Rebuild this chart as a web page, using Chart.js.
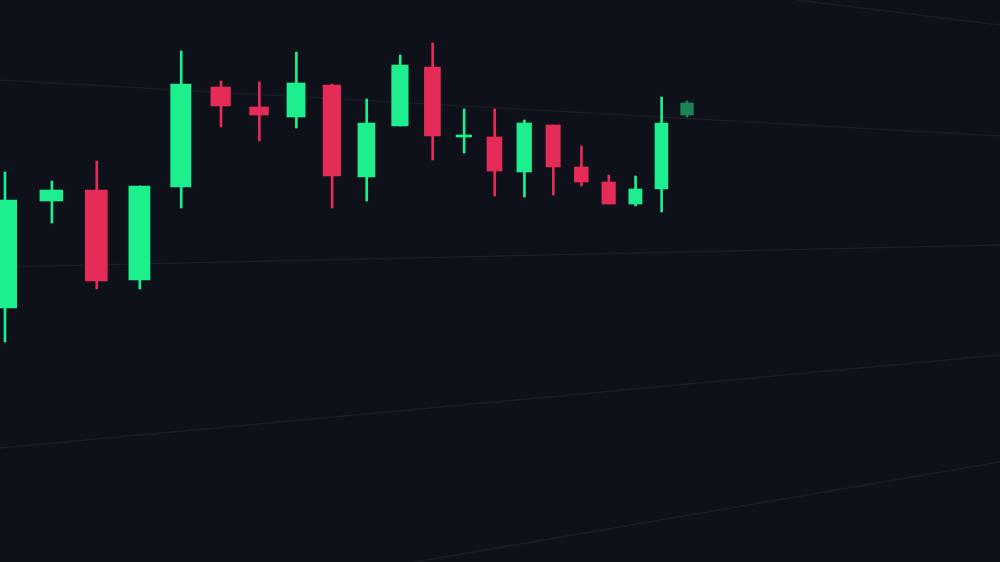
<!DOCTYPE html>
<html>
<head>
<meta charset="utf-8">
<script src="https://cdn.jsdelivr.net/npm/chart.js@4.4.1/dist/chart.umd.min.js"></script>
<style>
  html, body { margin: 0; padding: 0; background: #0e1119; }
  canvas { display: block; }
</style>
</head>
<body>
<canvas id="candleChart" width="1000" height="562"></canvas>
<script>
// session numbers (x); the x axis is logarithmic to get the receding look
const sessions = [22, 23, 24, 25, 26, 27, 28, 29, 30, 31, 32, 33, 34, 35, 36, 37, 38, 39, 40, 41, 42];
const opens  = [73, 99.75, 102.5, 80, 103.25, 128.25, 123.25, 120.75, 128.75, 105.75, 118.5, 133.25, 115.75, 115.75, 107, 118.75, 108.25, 104.5, 99, 102.75, 121.25];
const closes = [100, 102.5, 79.75, 103.5, 129, 123.5, 121.25, 129.25, 106, 119.25, 133.75, 116, 116.25, 107.25, 119.25, 108.25, 104.5, 99, 102.75, 119.25, 124.25];
const highs  = [107, 104.75, 109.75, 103.5, 137.25, 129.75, 129.5, 137, 129, 125.25, 136.25, 139.25, 122.75, 122.75, 120, 118.75, 113.5, 106.25, 106, 125.75, 124.75];
const lows   = [64.5, 94.25, 77.75, 77.75, 98, 118.25, 114.75, 118, 98, 99.75, 118.5, 110, 111.75, 101, 100.75, 101.25, 103.5, 99, 98.5, 97, 120.75];

const UP = "#1eef8e";
const DOWN = "#e52b57";
const LIVE = "#1a8457"; // last, still forming candle

const colors = opens.map((o, i) => {
  if (i === opens.length - 1) return LIVE;
  return closes[i] >= o ? UP : DOWN;
});

// faint slanted guide lines in the background
const slantLines = {
  id: "slantLines",
  beforeDatasetsDraw(chart) {
    const ctx = chart.ctx;
    ctx.save();
    ctx.strokeStyle = "rgba(255,255,255,0.05)";
    ctx.lineWidth = 1.5;
    [[0, 80, 1000, 136], [0, 267, 1000, 245], [0, 448, 1000, 355], [415, 562, 1000, 462], [797, 0, 1000, 25]]
      .forEach(([x1, y1, x2, y2]) => {
        ctx.beginPath();
        ctx.moveTo(x1, y1);
        ctx.lineTo(x2, y2);
        ctx.stroke();
      });
    ctx.restore();
  }
};

const ctx = document.getElementById("candleChart").getContext("2d");
const candleChart = new Chart(ctx, {
  type: "bar",
  data: {
    datasets: [
      {
        label: "Body",
        data: sessions.map((s, i) => ({ x: s, y: [opens[i], closes[i]] })),
        backgroundColor: colors,
        borderWidth: 0,
        barThickness: "flex",
        categoryPercentage: 1,
        barPercentage: 0.5,
      },
      {
        label: "Wick",
        data: sessions.map((s, i) => ({ x: s, y: [lows[i], highs[i]] })),
        backgroundColor: colors,
        borderWidth: 0,
        barThickness: 2,
        grouped: false,
      },
    ],
  },
  options: {
    responsive: false,
    animation: false,
    layout: { padding: 0 },
    plugins: {
      legend: { display: false },
      tooltip: { enabled: false },
    },
    scales: {
      x: {
        type: "logarithmic",
        min: 21.896,
        max: 56.51,
        offset: false,
        display: false,
      },
      y: {
        min: 9.5,
        max: 150,
        display: false,
      },
    },
  },
  plugins: [slantLines],
});
</script>
</body>
</html>
